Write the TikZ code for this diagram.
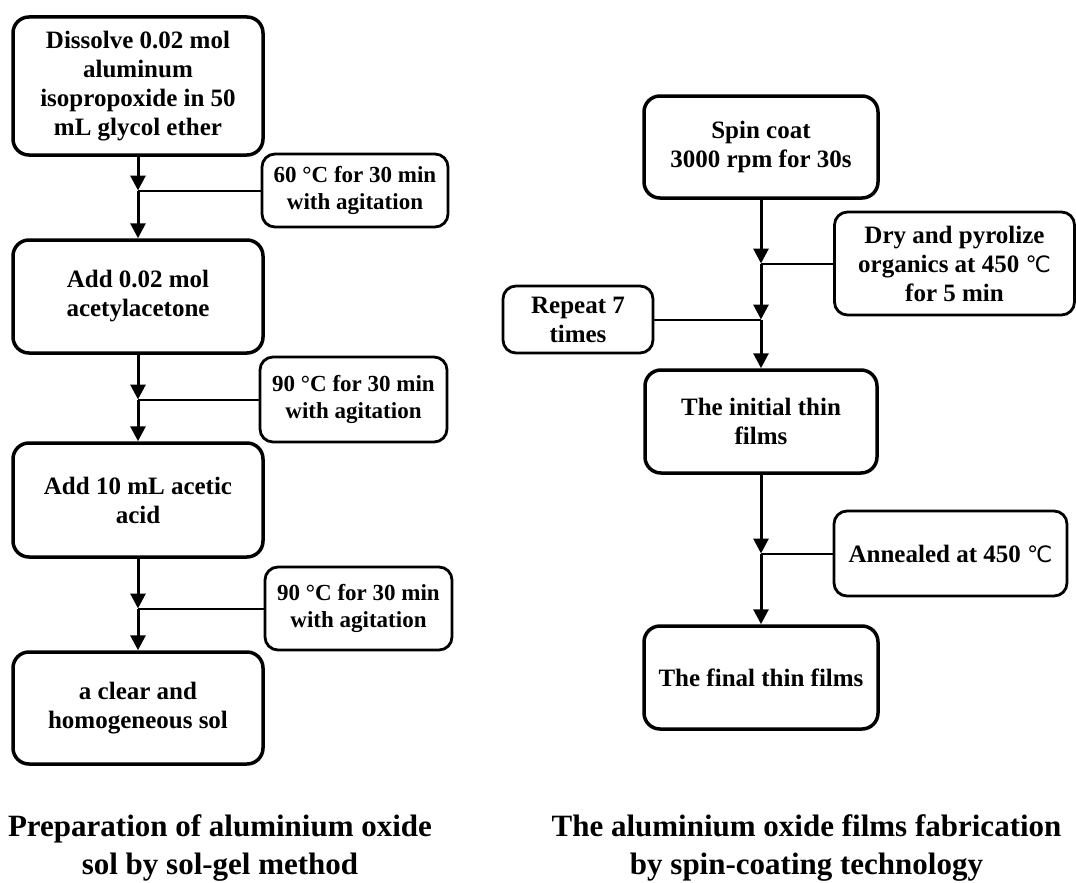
\documentclass[tikz,border=0pt]{standalone}
\usepackage{fontspec}
\setmainfont{Liberation Serif}
\newfontfamily\symfont[Scale=0.9]{DejaVu Sans}
\usetikzlibrary{arrows.meta,positioning}
\newcommand{\dgc}{{\symfont\mdseries ℃}}

\begin{document}
\begin{tikzpicture}[
    x=1pt, y=-1pt,
    >={Triangle[width=15pt,length=15pt]},
    box/.style   = {draw, line width=3.5pt, rounded corners=16pt,
                    inner sep=0pt, align=center,
                    font=\fontsize{25}{29}\selectfont\bfseries},
    cond/.style  = {draw, line width=2.8pt, rounded corners=13pt,
                    inner sep=0pt, align=center,
                    font=\fontsize{23}{27}\selectfont\bfseries},
    flow/.style  = {line width=3pt,->},
    feed/.style  = {line width=2pt},
    title/.style = {inner sep=0pt, align=center,
                    font=\fontsize{31}{38}\selectfont\bfseries}
  ]
  \useasboundingbox (0,0) rectangle (1076,883);

  %–––– sol-gel column ––––
  \node[box, minimum width=250pt, minimum height=138pt] (B1) at (138,86)
      {Dissolve 0.02 mol\\aluminum\\isopropoxide in 50\\mL glycol ether};
  \node[box, minimum width=250pt, minimum height=113pt] (B2) at (138,296.5)
      {Add 0.02 mol\\acetylacetone};
  \node[box, minimum width=250pt, minimum height=114pt] (B3) at (138,500)
      {Add 10 mL acetic\\acid};
  \node[box, minimum width=250pt, minimum height=112pt] (B4) at (138,708)
      {a clear and\\homogeneous sol};

  % heating conditions
  \node[cond, minimum width=186pt, minimum height=73pt] (S1) at (355,190.5)
      {60 °C for 30 min\\with agitation};
  \node[cond, minimum width=187pt, minimum height=85pt] (S2) at (353.5,399.5)
      {90 °C for 30 min\\with agitation};
  \node[cond, minimum width=187pt, minimum height=83pt] (S3) at (358.5,608.5)
      {90 °C for 30 min\\with agitation};

  %–––– spin-coating column ––––
  \node[box, minimum width=234pt, minimum height=102pt] (R1) at (761,147)
      {Spin coat\\3000 rpm for 30s};
  \node[box, minimum width=232pt, minimum height=103pt] (R2) at (761,421.5)
      {The initial thin\\films};
  \node[box, minimum width=234pt, minimum height=103pt] (R3) at (761,677.5)
      {The final thin films};

  % process steps
  \node[cond, minimum width=240pt, minimum height=103pt,
        font=\fontsize{25}{29}\selectfont\bfseries] (DRY) at (954.5,263.5)
      {Dry and pyrolize\\organics at 450 \dgc\\for 5 min};
  \node[cond, minimum width=150pt, minimum height=67pt,
        font=\fontsize{25}{29}\selectfont\bfseries] (REP) at (578,319.5)
      {Repeat 7\\times};
  \node[cond, minimum width=233pt, minimum height=85pt,
        font=\fontsize{25}{29}\selectfont\bfseries] (ANN) at (950.5,553.5)
      {Annealed at 450 \dgc};

  %–––– junctions ––––
  \coordinate (j1) at (B1.south |- S1.west);
  \coordinate (j2) at (B2.south |- S2.west);
  \coordinate (j3) at (B3.south |- S3.west);
  \coordinate (j4) at (R1.south |- DRY.west);
  \coordinate (j5) at (R1.south |- REP.east);
  \coordinate (j6) at (R2.south |- ANN.west);

  %–––– arrows ––––
  \draw[flow] (B1) -- (j1);
  \draw[flow] (j1) -- (B2);
  \draw[feed] (S1) -- (j1);

  \draw[flow] (B2) -- (j2);
  \draw[flow] (j2) -- (B3);
  \draw[feed] (S2) -- (j2);

  \draw[flow] (B3) -- (j3);
  \draw[flow] (j3) -- (B4);
  \draw[feed] (S3) -- (j3);

  \draw[flow] (R1) -- (j4);
  \draw[flow] (j4) -- (j5);
  \draw[flow] (j5) -- (R2);
  \draw[feed] (DRY) -- (j4);
  \draw[feed] (REP) -- (j5);

  \draw[flow] (R2) -- (j6);
  \draw[flow] (j6) -- (R3);
  \draw[feed] (ANN) -- (j6);

  %–––– captions ––––
  \node[title] (capL) at (220,848)
      {Preparation of aluminium oxide\\sol by sol-gel method};
  \node[title] (capR) at (806.5,848)
      {The aluminium oxide films fabrication\\by spin-coating technology};
\end{tikzpicture}
\end{document}
